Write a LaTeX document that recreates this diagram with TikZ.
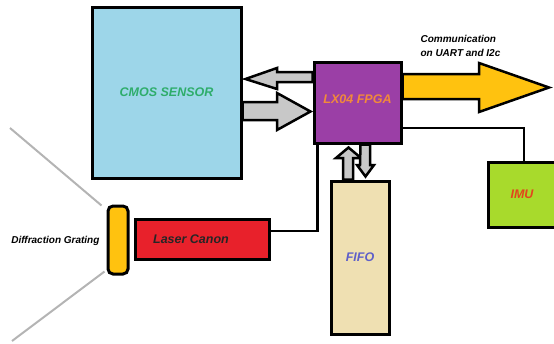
\documentclass[tikz,border=0pt]{standalone}
\usepackage{fontspec}
\setmainfont{Liberation Sans}
\usetikzlibrary{calc,backgrounds}
\definecolor{Sensor}{HTML}{9DD6E9}
\definecolor{SensorText}{HTML}{2EAD6B}
\definecolor{Fpga}{HTML}{9B3FA6}
\definecolor{FpgaText}{HTML}{F28A3A}
\definecolor{Gold}{HTML}{FFC20F}
\definecolor{Laser}{HTML}{E8212B}
\definecolor{Imu}{HTML}{A8DA2C}
\definecolor{ImuText}{HTML}{E2461C}
\definecolor{Fifo}{HTML}{EFE0B2}
\definecolor{FifoText}{HTML}{5E5FC9}
\definecolor{Pipe}{HTML}{C8C8C8}
\definecolor{Ray}{HTML}{B4B4B4}

\begin{document}
\begin{tikzpicture}[x=1pt,y=-1pt,font=\bfseries\itshape\fontsize{12.5}{15}\selectfont,
 box/.style={draw=black,line width=3pt,inner sep=0pt,align=center},
 wire/.style={draw=black,line width=2.5pt},
 fat/.style={draw=black,line width=2.5pt,fill=Pipe,line join=miter},
 ray/.style={draw=Ray,line width=2pt},
 small/.style={font=\bfseries\itshape\fontsize{10}{14}\selectfont}]
 \useasboundingbox (0,0) rectangle (554,343);
 \node[box,fill=Sensor,text=SensorText,minimum width=149pt,minimum height=171pt] (cmos) at (166.5,92.5) {CMOS SENSOR};
 \node[box,fill=Fpga,text=FpgaText,minimum width=87pt,minimum height=81pt] (fpga) at (357.5,102.5) {\raisebox{6pt}{LX04 FPGA}};
 \node[box,fill=Fifo,text=FifoText,minimum width=58pt,minimum height=153pt] (fifo) at (360,257.5) {FIFO};
 \node[box,fill=Imu,text=ImuText,minimum width=68pt,minimum height=65pt] (imu) at (522,194.5) {IMU};
 \node[box,fill=Laser,text=black!85,minimum width=134pt,minimum height=40pt] (laser) at (202,239) {\hspace*{-22pt}Laser Canon};
 \node[box,fill=Gold,rounded corners=5pt,minimum width=20pt,minimum height=68pt] (grating) at (118,240) {};
 \node[small,anchor=east] (gratlabel) at (103,241) {Diffraction Grating};
 \node[small,anchor=west,align=left] (comm) at (417,46) {Communication\\on UART and I2c};
 \coordinate (rayhi) at (10,128);
 \coordinate (raylo) at (12,341);

 \begin{scope}[on background layer]
  % light leaving the grating
  \draw[ray] (rayhi) -- ($(grating.north west)+(-5,1)$);
  \draw[ray] ($(grating.south west)+(-2,-4)$) -- (raylo);
  % sensor <-> fpga
  \draw[fat] ($(fpga.west)+(0,-30.5)$) -- (277,72) -- (277,68) -- ($(cmos.east)+(3,-13.5)$) -- (277,89) -- (277,82) -- ($(fpga.west)+(0,-20.5)$) -- cycle;
  \draw[fat] ($(cmos.east)+(0,9.5)$) -- (277,102) -- (277,93) -- ($(fpga.west)+(-2,9)$) -- (277,130) -- (277,120) -- ($(cmos.east)+(0,27.5)$) -- cycle;
  % fifo <-> fpga
  \draw[fat] ($(fifo.north)+(-17,0)$) -- (343,158) -- (336,158) -- ($(fpga.south)+(-9,3)$) -- (361,158) -- (353,158) -- ($(fifo.north)+(-7,0)$) -- cycle;
  \draw[fat] ($(fpga.south)+(3,0)$) -- (360,165) -- (357,165) -- ($(fifo.north)+(5.5,-3)$) -- (374,165) -- (370,165) -- ($(fpga.south)+(12.5,0)$) -- cycle;
  % output bus
  \draw[fat,fill=Gold] ($(fpga.east)+(0,-28.5)$) -- (479,74) -- (479,63) -- (549,87.5) -- (479,112) -- (479,99) -- ($(fpga.east)+(0,-3.5)$) -- cycle;
  \draw[wire] ($(fpga.east)+(0,25.5)$) -| ($(imu.north)+(2,0)$);
  \draw[wire] ($(laser.east)+(0,-8)$) -| ($(fpga.south west)+(5,0)$);
 \end{scope}
\end{tikzpicture}
\end{document}
